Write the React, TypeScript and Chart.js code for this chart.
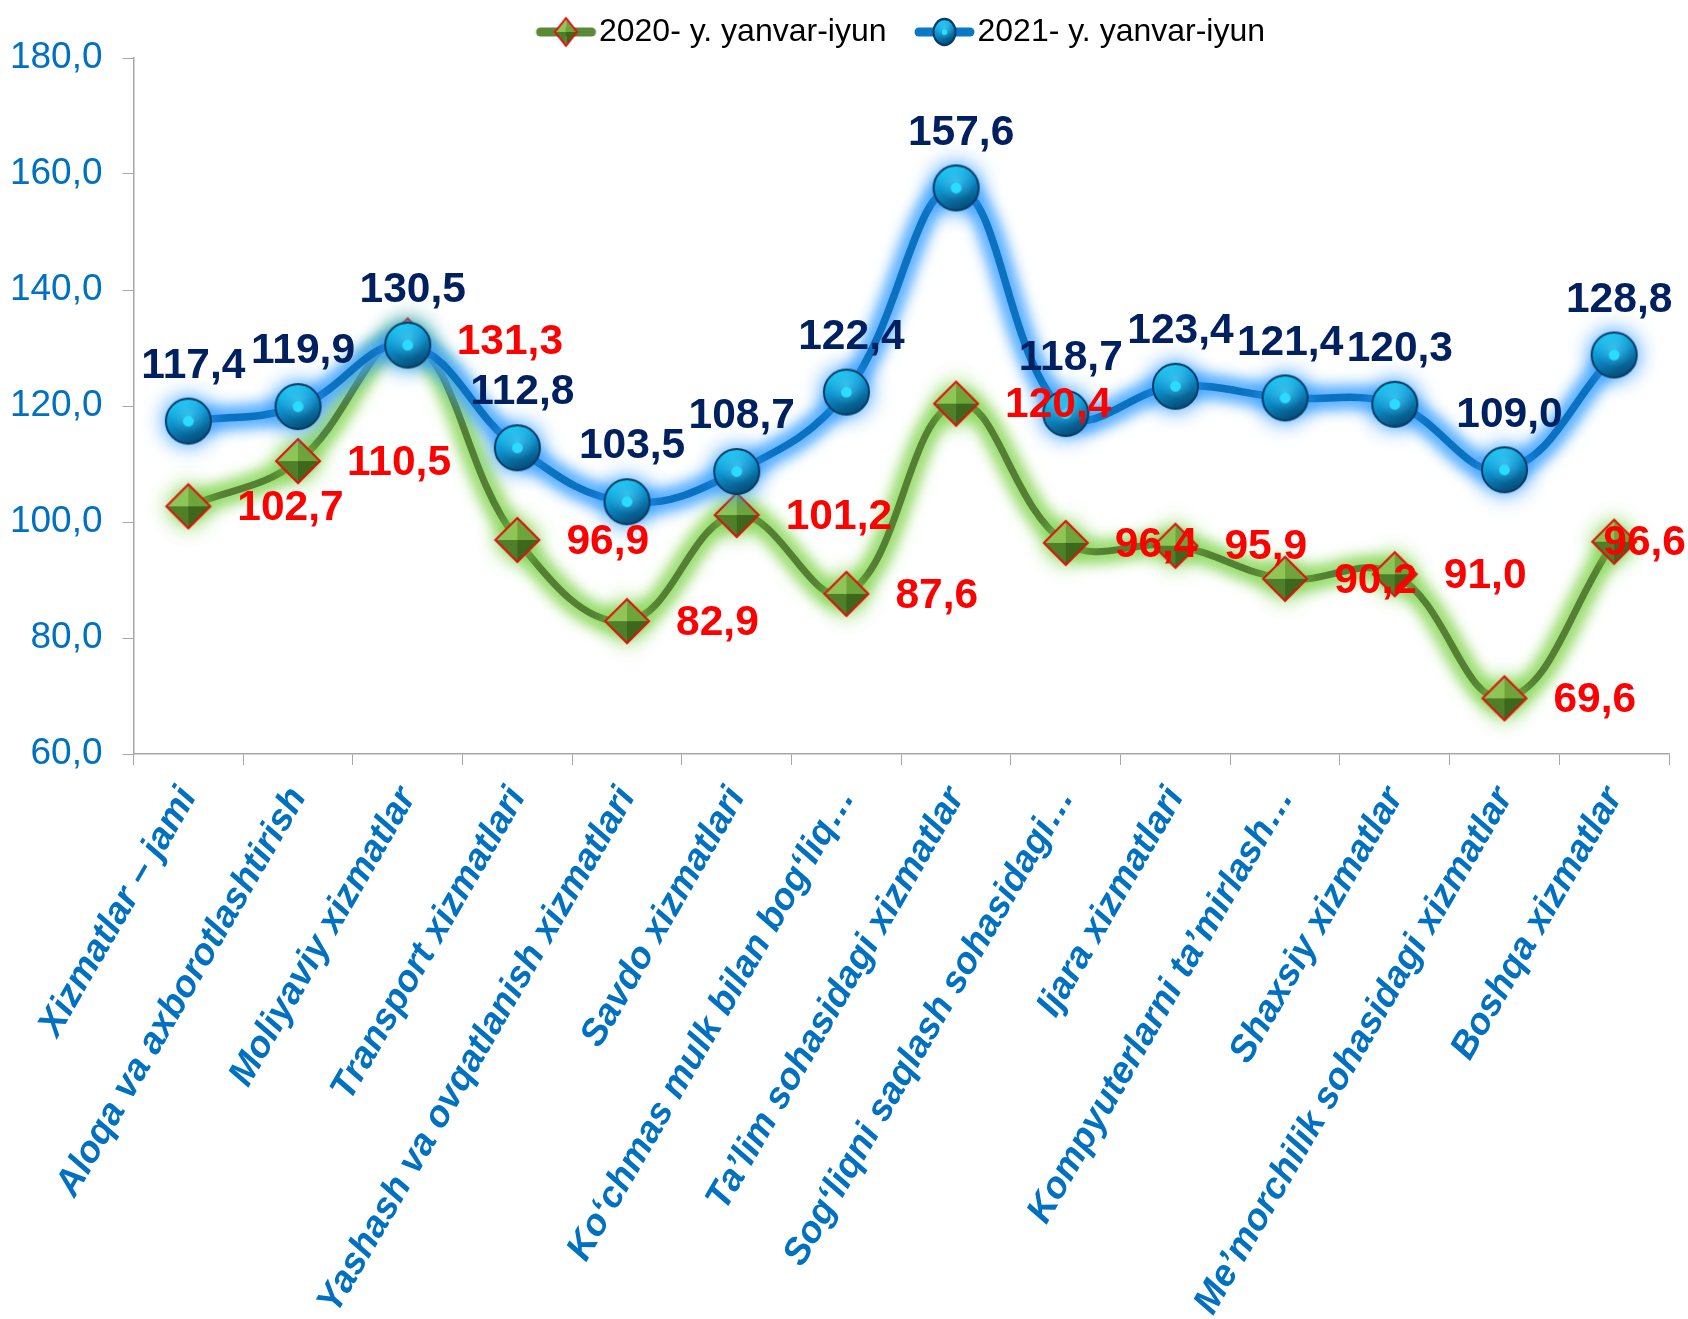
import React, { useEffect, useRef } from 'react';
import { Chart, registerables } from 'chart.js';

Chart.register(...registerables);

const categories = [
  'Xizmatlar – jami',
  'Aloqa va axborotlashtirish',
  'Moliyaviy xizmatlar',
  'Transport xizmatlari',
  'Yashash va ovqatlanish xizmatlari',
  'Savdo xizmatlari',
  'Ko‘chmas mulk bilan bog‘liq…',
  'Ta’lim sohasidagi xizmatlar',
  'Sog‘liqni saqlash sohasidagi…',
  'Ijara xizmatlari',
  'Kompyuterlarni ta’mirlash…',
  'Shaxsiy xizmatlar',
  'Me’morchilik sohasidagi xizmatlar',
  'Boshqa xizmatlar',
];

const values2020 = [102.7, 110.5, 131.3, 96.9, 82.9, 101.2, 87.6, 120.4, 96.4, 95.9, 90.2, 91.0, 69.6, 96.6];
const values2021 = [117.4, 119.9, 130.5, 112.8, 103.5, 108.7, 122.4, 157.6, 118.7, 123.4, 121.4, 120.3, 109.0, 128.8];
const yTicks = [60, 80, 100, 120, 140, 160, 180];
const seriesNames = ['2020- y. yanvar-iyun', '2021- y. yanvar-iyun'];

const FONT = '"Liberation Sans", Arial, sans-serif';
const W = 1688;
const H = 1319;

function fmt(v: number): string {
  return v.toFixed(1).replace('.', ',');
}

function drawSphere(g: CanvasRenderingContext2D, cx: number, cy: number, rx: number, ry: number) {
  g.save();
  g.translate(cx, cy);
  g.scale(1, ry / rx);
  const r = rx;
  const grad = g.createLinearGradient(-r * 0.4, -r, r * 0.4, r);
  grad.addColorStop(0, '#18CBF8');
  grad.addColorStop(0.45, '#0C8FCC');
  grad.addColorStop(1, '#054670');
  g.beginPath();
  g.arc(0, 0, r, 0, Math.PI * 2);
  g.fillStyle = grad;
  g.fill();
  const rg = g.createRadialGradient(0, -r * 0.3, 0, 0, -r * 0.3, r * 0.85);
  rg.addColorStop(0, 'rgba(90,220,255,0.55)');
  rg.addColorStop(1, 'rgba(90,220,255,0)');
  g.fillStyle = rg;
  g.beginPath();
  g.arc(0, 0, r - 1, 0, Math.PI * 2);
  g.fill();
  g.lineWidth = 2;
  g.strokeStyle = '#073B63';
  g.beginPath();
  g.arc(0, 0, r, 0, Math.PI * 2);
  g.stroke();
  g.beginPath();
  g.arc(0, 0, r * 0.24, 0, Math.PI * 2);
  g.fillStyle = '#2ADCFF';
  g.fill();
  g.restore();
}

function drawDiamond(g: CanvasRenderingContext2D, cx: number, cy: number, rx: number, ry: number) {
  const top = [cx, cy - ry];
  const right = [cx + rx, cy];
  const bottom = [cx, cy + ry];
  const left = [cx - rx, cy];
  const tri = (a: number[], b: number[], color: string) => {
    g.beginPath();
    g.moveTo(cx, cy);
    g.lineTo(a[0], a[1]);
    g.lineTo(b[0], b[1]);
    g.closePath();
    g.fillStyle = color;
    g.fill();
  };
  tri(top, left, '#8EC556');
  tri(top, right, '#6EA43A');
  tri(left, bottom, '#507F29');
  tri(right, bottom, '#3D681C');
  g.beginPath();
  g.moveTo(top[0], top[1]);
  g.lineTo(right[0], right[1]);
  g.lineTo(bottom[0], bottom[1]);
  g.lineTo(left[0], left[1]);
  g.closePath();
  g.lineWidth = 2;
  g.strokeStyle = '#E01010';
  g.stroke();
}

function makeSphere(r: number): HTMLCanvasElement {
  const size = Math.ceil(r * 2 + 4);
  const c = document.createElement('canvas');
  c.width = size;
  c.height = size;
  drawSphere(c.getContext('2d')!, size / 2, size / 2, r, r);
  return c;
}

function makeDiamond(r: number): HTMLCanvasElement {
  const size = Math.ceil(r * 2 + 4);
  const c = document.createElement('canvas');
  c.width = size;
  c.height = size;
  drawDiamond(c.getContext('2d')!, size / 2, size / 2, r, r);
  return c;
}

function makeLegendImage(kind: 'diamond' | 'sphere', color: string): HTMLCanvasElement {
  const c = document.createElement('canvas');
  c.width = 120;
  c.height = 32;
  const g = c.getContext('2d')!;
  const a = 42.5;
  g.lineCap = 'round';
  g.lineWidth = 9;
  g.strokeStyle = color;
  g.beginPath();
  g.moveTo(a + 4.5, 16);
  g.lineTo(a + 55.5, 16);
  g.stroke();
  if (kind === 'diamond') drawDiamond(g, a + 30, 16, 11, 14);
  else drawSphere(g, a + 30, 16, 11, 13);
  return c;
}

export default function App() {
  const ref = useRef<HTMLCanvasElement>(null);

  useEffect(() => {
    const sphere = makeSphere(22.5);
    const diamond = makeDiamond(22);
    const leg2020 = makeLegendImage('diamond', '#5A8A35');
    const leg2021 = makeLegendImage('sphere', '#0A78C8');
    const glowColors = ['rgba(70,165,255,0.75)', 'rgba(140,215,90,0.75)'];
    const shadowColors = ['rgba(40,150,255,1)', 'rgba(120,210,70,1)'];

    const glowPlugin = {
      id: 'glow',
      beforeDatasetDraw(chart: any, args: any) {
        const ctx = chart.ctx;
        const line = args.meta.dataset;
        if (line && typeof line.path === 'function') {
          ctx.save();
          ctx.filter = 'blur(6px)';
          ctx.lineJoin = 'round';
          ctx.lineCap = 'round';
          ctx.lineWidth = 24;
          ctx.strokeStyle = glowColors[args.index];
          ctx.beginPath();
          line.path(ctx);
          ctx.stroke();
          ctx.restore();
        }
        ctx.save();
        ctx.shadowColor = shadowColors[args.index];
        ctx.shadowBlur = 22;
      },
      afterDatasetDraw(chart: any) {
        chart.ctx.restore();
      },
    };

    const labelPlugin = {
      id: 'valueLabels',
      afterDatasetsDraw(chart: any) {
        const ctx = chart.ctx;
        ctx.save();
        ctx.font = `bold 42.5px ${FONT}`;
        ctx.textBaseline = 'middle';
        chart.data.datasets.forEach((ds: any, di: number) => {
          const meta = chart.getDatasetMeta(di);
          meta.data.forEach((pt: any, i: number) => {
            const text = fmt(ds.data[i]);
            if (ds.labelMode === 'above') {
              ctx.fillStyle = '#002060';
              ctx.textAlign = 'center';
              ctx.fillText(text, pt.x + 5, pt.y - 55);
            } else {
              ctx.fillStyle = '#FF0000';
              ctx.textAlign = 'left';
              const w = ctx.measureText(text).width;
              let x = pt.x + 49;
              if (x + w > chart.width - 2) x = chart.width - 2 - w;
              ctx.fillText(text, x, pt.y + 2);
            }
          });
        });
        ctx.restore();
      },
    };

    const legendShift = {
      id: 'legendShift',
      afterLayout(chart: any) {
        const l = chart.legend;
        if (l) {
          l.left += 60;
          l.right += 60;
        }
      },
    };

    const chart = new Chart(ref.current!, {
      type: 'line',
      data: {
        labels: categories,
        datasets: [
          {
            label: seriesNames[1],
            data: values2021,
            borderColor: '#0A72C0',
            backgroundColor: '#0A72C0',
            borderWidth: 7.5,
            tension: 0.4,
            pointStyle: sphere as any,
            pointRadius: 22,
            pointHoverRadius: 22,
            fill: false,
            clip: false as any,
            labelMode: 'above',
          } as any,
          {
            label: seriesNames[0],
            data: values2020,
            borderColor: '#557F33',
            backgroundColor: '#557F33',
            borderWidth: 7,
            tension: 0.4,
            pointStyle: diamond as any,
            pointRadius: 22,
            pointHoverRadius: 22,
            fill: false,
            clip: false as any,
            labelMode: 'right',
          } as any,
        ],
      },
      options: {
        responsive: false,
        animation: false,
        devicePixelRatio: 1,
        layout: { autoPadding: false, padding: { top: 0, right: 19, bottom: 0, left: 0 } },
        plugins: {
          tooltip: { enabled: false },
          legend: {
            display: true,
            position: 'top',
            labels: {
              usePointStyle: true,
              pointStyleWidth: 59,
              padding: 16,
              color: '#000000',
              font: { family: FONT, size: 32 },
              generateLabels: () => [
                { text: seriesNames[0], pointStyle: leg2020 as any, datasetIndex: 1, hidden: false, lineWidth: 0, fillStyle: '#557F33', strokeStyle: '#557F33', fontColor: '#000' },
                { text: seriesNames[1], pointStyle: leg2021 as any, datasetIndex: 0, hidden: false, lineWidth: 0, fillStyle: '#0A72C0', strokeStyle: '#0A72C0', fontColor: '#000' },
              ] as any,
            },
          },
        },
        scales: {
          x: {
            offset: true,
            grid: { display: true, drawOnChartArea: false, drawTicks: true, tickLength: 11, color: '#A6A6A6', offset: true },
            border: { display: true, color: '#A6A6A6', width: 1.5 },
            ticks: {
              color: '#0070C0',
              font: { family: FONT, size: 37, weight: 'bold', style: 'italic' },
              minRotation: 60,
              maxRotation: 60,
              autoSkip: false,
              padding: 15,
            },
            afterFit: (s: any) => {
              s.height = H - 754;
              s.paddingRight = 0;
              s.paddingLeft = 0;
            },
          },
          y: {
            min: 60,
            max: 180,
            afterBuildTicks: (s: any) => {
              s.ticks = yTicks.map((v) => ({ value: v }));
            },
            ticks: {
              color: '#0070C0',
              font: { family: FONT, size: 37 },
              padding: 20,
              callback: (v: any) => fmt(Number(v)),
            },
            grid: { display: true, drawOnChartArea: false, drawTicks: true, tickLength: 11, color: '#A6A6A6' },
            border: { display: true, color: '#A6A6A6', width: 1.5 },
            afterFit: (s: any) => {
              s.width = 133.5;
            },
          },
        },
      } as any,
      plugins: [glowPlugin, labelPlugin, legendShift],
    });

    return () => chart.destroy();
  }, []);

  return (
    <div style={{ position: 'absolute', left: 0, top: 0, width: W, height: H, background: '#fff' }}>
      <canvas ref={ref} width={W} height={H} style={{ width: W, height: H, display: 'block' }} />
    </div>
  );
}
